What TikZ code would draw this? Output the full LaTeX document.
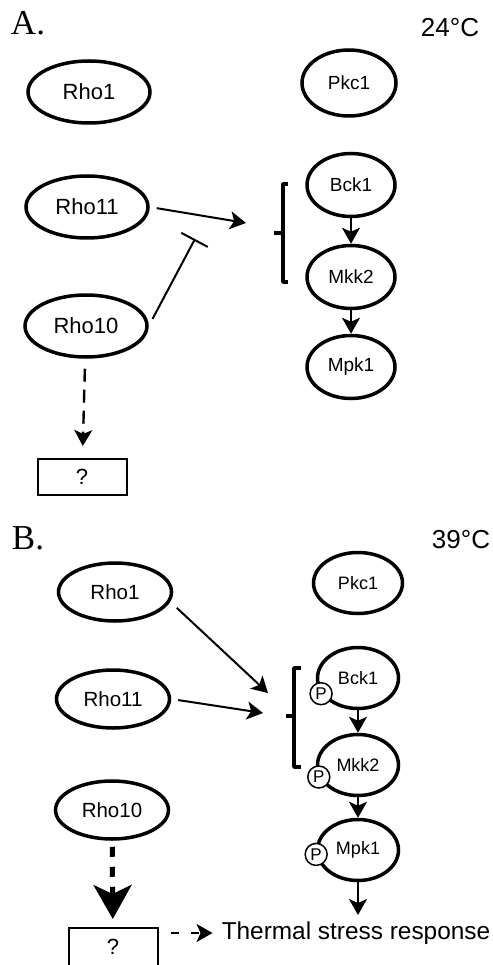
\documentclass[tikz,border=0pt]{standalone}
\usepackage{fontspec}
\setmainfont{Liberation Sans}
\newfontfamily\panelfont{Liberation Serif}
\usetikzlibrary{shapes.geometric,arrows.meta}

\tikzset{
	every protein/.style={ellipse, draw, line width=3.5pt, inner sep=0pt},
	rho a/.style={every protein, minimum width=122pt, minimum height=62pt, font=\fontsize{22}{24}\selectfont},
	rho b/.style={every protein, minimum width=113pt, minimum height=58pt, font=\fontsize{20.5}{23}\selectfont},
	kinase a/.style={every protein, minimum width=88pt, minimum height=63pt, font=\fontsize{19}{21}\selectfont},
	kinase b/.style={every protein, minimum width=81pt, minimum height=61pt, font=\fontsize{18}{20}\selectfont},
	phospho/.style={circle, draw, fill=white, line width=1.5pt, minimum size=22pt, inner sep=0pt, font=\fontsize{17}{19}\selectfont},
	unknown/.style={draw, line width=2pt, minimum width=89pt, minimum height=36pt, font=\fontsize{22}{24}\selectfont},
	link/.style={->, line width=2pt},
	brace/.style={line width=3.5pt, line join=round}
}

\begin{document}
\begin{tikzpicture}[x=1pt, y=-1pt, >={Stealth[length=16pt,width=18pt,inset=4pt]}]
	\useasboundingbox (0,0) rectangle (492,965);
	
	\node [font=\panelfont\fontsize{35}{38}\selectfont] (panel-a) at (28,23) {A.};
	\node [font=\fontsize{26}{28}\selectfont] (temp-a) at (450,28) {24°C};
	
	\node [rho a] (rho1-a) at (89,92) {Rho1};
	\node [rho a] (rho11-a) at (87,207) {Rho11};
	\node [rho a] (rho10-a) at (86,326) {Rho10};
	
	\node [kinase a, minimum width=94pt, minimum height=66pt] (pkc1-a) at (349,83) {Pkc1};
	\foreach \m/\y in {Bck1/185, Mkk2/277, Mpk1/367}
	\node [kinase a] (\m-a) at (351,\y) {\m};
	
	\foreach \a/\b in {Bck1/Mkk2, Mkk2/Mpk1}
	\draw [link] (\a-a) -- (\b-a);
	
	\draw [brace] (288,184) -- (283,184) -- (283,282) -- (288,282);
	\draw [brace] (274,233) -- (283,233);
	\coordinate (bracket-a) at (246,223);
	\coordinate (block-a) at (195,239);
	
	\draw [link, shorten <=7pt] (rho11-a.east) -- (bracket-a);
	\draw [-{Bar[width=30pt]}, line width=2pt, shorten <=8pt] (rho10-a.east) -- (block-a);
	
	\node [unknown] (query-a) at (82,477) {?};
	\draw [link, line width=2.4pt, dash pattern=on 13pt off 8pt, shorten <=10pt, shorten >=12pt] (rho10-a) -- (query-a);
	
	
	\node [font=\panelfont\fontsize{35}{38}\selectfont] (panel-b) at (28,538) {B.};
	\node [font=\fontsize{26}{28}\selectfont] (temp-b) at (461,540) {39°C};
	
	\node [rho b] (rho1-b) at (115,592) {Rho1};
	\node [rho b] (rho11-b) at (113,699) {Rho11};
	\node [rho b] (rho10-b) at (112,810) {Rho10};
	
	\node [kinase b, minimum width=89pt] (pkc1-b) at (358,583) {Pkc1};
	\foreach \m/\y/\p in {Bck1/678/203, Mkk2/765/197, Mpk1/850/186} {
		\node [kinase b] (\m-b) at (358,\y) {\m};
		\node [phospho] (p-\m) at (\m-b.\p) {P};
	}
	
	\foreach \a/\b in {Bck1/Mkk2, Mkk2/Mpk1}
	\draw [link] (\a-b) -- (\b-b);
	\coordinate (out-b) at (358,915);
	\draw [link] (Mpk1-b) -- (out-b);
	
	\draw [brace] (301,668) -- (294,668) -- (294,767) -- (301,767);
	\draw [brace] (286,716) -- (294,716);
	\coordinate (bracket-b1) at (268,693);
	\coordinate (bracket-b2) at (263,713);
	
	\draw [link, shorten <=9pt] (rho1-b.-10) -- (bracket-b1);
	\draw [link, shorten <=7pt] (rho11-b.east) -- (bracket-b2);
	
	\node [unknown, minimum height=38pt] (query-b) at (113,947) {?};
	\draw [-{Stealth[length=34pt,width=38pt,inset=9pt]}, line width=5pt, dash pattern=on 10pt off 10pt, shorten <=6pt, shorten >=8pt] (rho10-b) -- (query-b);
	
	\node [inner sep=0pt, font=\fontsize{24.4}{27}\selectfont] (stress) at (356,933) {Thermal stress response};
	\draw [link, dash pattern=on 8pt off 12pt, shorten <=12pt, shorten >=9pt] (stress.west -| query-b.east) -- (stress.west);
\end{tikzpicture}
\end{document}
